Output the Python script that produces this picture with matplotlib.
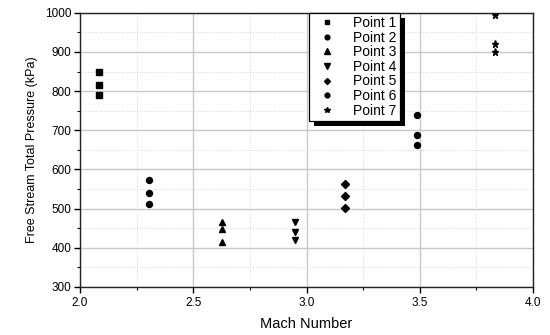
import matplotlib
matplotlib.use('Agg')
import matplotlib.pyplot as plt
from matplotlib.patches import Rectangle
from matplotlib.ticker import MultipleLocator

plt.rcParams['font.family'] = ['Liberation Sans', 'DejaVu Sans']

# data
labels = ['Point 1', 'Point 2', 'Point 3', 'Point 4', 'Point 5', 'Point 6', 'Point 7']
mach = [2.085, 2.306, 2.627, 2.948, 3.169, 3.487, 3.83]
pressure = [
    [849, 816, 789],
    [572, 541, 513],
    [465, 447, 416],
    [467, 441, 419],
    [564, 533, 502],
    [739, 689, 662],
    [994, 920, 900],
]
markers = ['s', 'o', '^', 'v', 'D', 'o', '*']
sizes = [3.8, 4.3, 5, 5, 3.8, 4.3, 5.2]

fig = plt.figure(figsize=(5.5, 3.35), dpi=100)
ax = fig.add_axes([0.1455, 0.1433, 0.8236, 0.8186])

for lab, m, p, mk, ms in zip(labels, mach, pressure, markers, sizes):
    ax.plot([m] * len(p), p, linestyle='none', marker=mk, color='black',
            markersize=ms, label=lab)

ax.set_xlim(2.0, 4.0)
ax.set_ylim(300, 1000)
ax.xaxis.set_major_locator(MultipleLocator(0.5))
ax.xaxis.set_minor_locator(MultipleLocator(0.25))
ax.yaxis.set_major_locator(MultipleLocator(100))
ax.yaxis.set_minor_locator(MultipleLocator(50))
ax.xaxis.set_major_formatter(plt.FormatStrFormatter('%.1f'))

ax.grid(which='major', color='#c8c8c8', linewidth=1.0, linestyle='-')
ax.grid(which='minor', color='#d8d8d8', linewidth=0.7, linestyle=':')
ax.set_axisbelow(True)

ax.tick_params(which='major', direction='out', length=4, width=1.0, labelsize=8.5, pad=2)
ax.tick_params(which='minor', direction='out', length=2, width=0.8)
ax.tick_params(axis='x', which='major', pad=3)
for s in ax.spines.values():
    s.set_linewidth(1.0)
    s.set_color('#222222')

ax.set_xlabel('Mach Number', fontsize=10.5, labelpad=6)
ax.set_ylabel('Free Stream Total Pressure (kPa)', fontsize=9, labelpad=5)

leg = ax.legend(loc='upper left', bbox_to_anchor=(0.5055, 1.0), borderaxespad=0,
                fancybox=False, framealpha=1, edgecolor='black', fontsize=10,
                handlelength=2.1, handletextpad=0.8, labelspacing=0.04,
                borderpad=0.25, markerscale=0.8)
leg.get_frame().set_linewidth(0.9)
leg.set_zorder(6)

# solid black drop shadow behind the legend box
fig.canvas.draw()
bb = leg.get_window_extent()
shadow = Rectangle((bb.x0 + 5, bb.y0 - 5), bb.width, bb.height, transform=None,
                   facecolor='black', edgecolor='none', zorder=5.5, clip_on=False)
ax.add_artist(shadow)

fig.savefig('out.png', dpi=100)
